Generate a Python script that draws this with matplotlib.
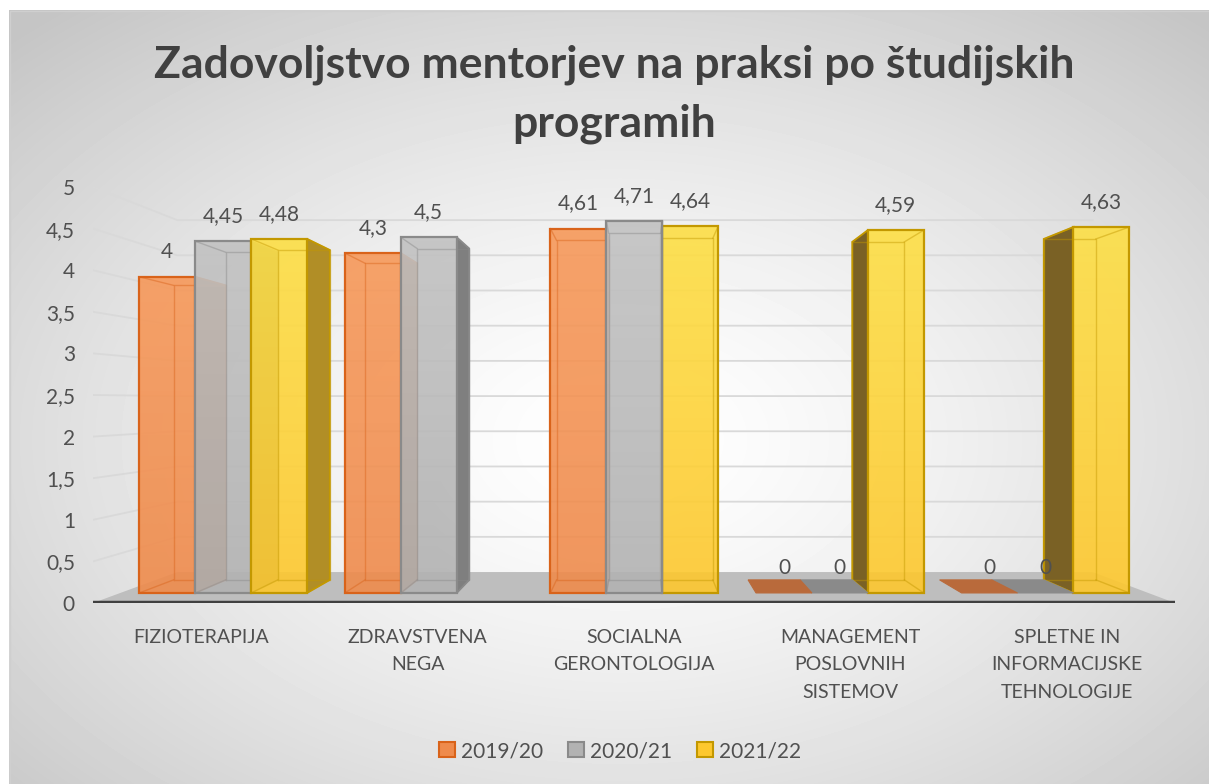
import numpy as np
import matplotlib
matplotlib.use("Agg")
import matplotlib.pyplot as plt
from matplotlib.patches import Polygon, Rectangle
from matplotlib.colors import LinearSegmentedColormap

plt.rcParams["font.family"] = ["Lato", "DejaVu Sans"]

# --- data ---
categories = [
    "FIZIOTERAPIJA",
    "ZDRAVSTVENA\nNEGA",
    "SOCIALNA\nGERONTOLOGIJA",
    "MANAGEMENT\nPOSLOVNIH\nSISTEMOV",
    "SPLETNE IN\nINFORMACIJSKE\nTEHNOLOGIJE",
]
series_names = ["2019/20", "2020/21", "2021/22"]
vals_2019 = [4, 4.3, 4.61, 0, 0]
vals_2020 = [4.45, 4.5, 4.71, 0, 0]
vals_2021 = [4.48, np.nan, 4.64, 4.59, 4.63]
y_ticks = [0, 0.5, 1, 1.5, 2, 2.5, 3, 3.5, 4, 4.5, 5]

title = "Zadovoljstvo mentorjev na praksi po študijskih\nprogramih"

# --- styling ---
FRONT = ["#EF8B4C", "#B2B2B2", "#FDC82E"]
FRONT_TOP = ["#F7995A", "#C2C2C2", "#FDDF45"]
EDGE = ["#D9631A", "#8A8A8A", "#C39800"]
RSIDE = ["#B5612A", "#7F7F7F", "#B18E26"]
LSIDE = ["#8A4A20", "#5E5E5E", "#7A6125"]
FLAT = ["#B96A3B", "#8A8A8A", "#C9A020"]
TXT = "#505050"

# simple one-point perspective, in data units of the front (floor-edge) plane
VX, VY = 2.528, 2.416
S_FRONT, S_BACK, S_WALL = 0.95, 0.885, 0.846
BAR_W = 0.272


def proj(x, y, s):
    return VX + s * (x - VX), VY + s * (y - VY)


def fmt(v):
    return f"{v:g}".replace(".", ",")


W, H = 1209, 784
fig = plt.figure(figsize=(W / 100, H / 100), dpi=100)

# background: radial grey gradient inside the chart area
bg = fig.add_axes([0, 0, 1, 1], zorder=0)
bg.set_xlim(0, W)
bg.set_ylim(H, 0)
bg.axis("off")
gx, gy = np.meshgrid(np.arange(9, W) + 0.5, np.arange(10, H) + 0.5)
r = np.hypot((gx - 620) / 600, (gy - 440) / 390)
shade = 1 - 0.23 * np.clip(r / 1.45, 0, 1) ** 1.4
bg.imshow(shade, cmap="gray", vmin=0, vmax=1, extent=(9, W, H, 10),
          aspect="auto", interpolation="bilinear")
bg.add_patch(Rectangle((9.5, 10.5), W, H, fill=False, edgecolor="#CFCFCF", lw=1))

ax = fig.add_axes([93 / W, 1 - 603 / H, (1175 - 93) / W, (603 - 187) / H], zorder=1)
ax.set_xlim(0, 5)
ax.set_ylim(0, 5)
ax.set_aspect("auto")
ax.patch.set_alpha(0)
for sp in ax.spines.values():
    sp.set_visible(False)

n_cat = len(categories)

# floor
floor = [proj(0, 0, 1), proj(n_cat, 0, 1), proj(n_cat, 0, S_WALL), proj(0, 0, S_WALL)]
ax.add_patch(Polygon(floor, closed=True, facecolor="#BEBEBE", edgecolor="none", zorder=1))
ax.plot([0, n_cat], [0, 0], color="#404040", lw=3.2, solid_capstyle="round", zorder=2)

# side-wall + back-wall gridlines
for v in y_ticks[1:]:
    a, b, c = proj(0, v, 1), proj(0, v, S_WALL), proj(n_cat, v, S_WALL)
    ax.plot([a[0], b[0], c[0]], [a[1], b[1], c[1]], color="#D9D9D9", lw=1.3, zorder=0.5)

cmaps = [LinearSegmentedColormap.from_list(f"s{k}", [FRONT[k], FRONT_TOP[k]])
         for k in range(len(series_names))]
ramp = np.linspace(0, 1, 64)[:, None]

# bars, painted far-from-vanishing-point first
bars = []
for k, vals in enumerate([vals_2019, vals_2020, vals_2021]):
    for i, v in enumerate(vals):
        if np.isnan(v):
            continue
        cx = i + 0.5 + (k - 1) * BAR_W
        bars.append((abs(cx - VX), cx, v, k))
bars.sort(key=lambda b: -b[0])

for j, (_, cx, v, k) in enumerate(bars):
    z = 3 + j * 0.1
    xl, xr = cx - BAR_W / 2, cx + BAR_W / 2
    x0, y0 = proj(xl, 0, S_FRONT)
    x1, y1 = proj(xr, v, S_FRONT)
    if v == 0:
        top = [proj(xl, 0, S_FRONT), proj(xr, 0, S_FRONT), proj(xr, 0, S_BACK), proj(xl, 0, S_BACK)]
        ax.add_patch(Polygon(top, closed=True, facecolor=FLAT[k], edgecolor=FLAT[k],
                             lw=0.8, zorder=z))
    else:
        if cx > VX:
            sx, scol = xl, LSIDE[k]
        else:
            sx, scol = xr, RSIDE[k]
        side = [proj(sx, 0, S_FRONT), proj(sx, v, S_FRONT), proj(sx, v, S_BACK), proj(sx, 0, S_BACK)]
        ax.add_patch(Polygon(side, closed=True, facecolor=scol, edgecolor=EDGE[k],
                             lw=1.3, zorder=z))
        # front face: translucent vertical gradient, outlined by the bar itself
        ax.imshow(ramp, cmap=cmaps[k], origin="lower", extent=(x0, x1, y0, y1),
                  aspect="auto", alpha=0.9, zorder=z + 0.005, interpolation="bilinear")
        ax.bar(x0, y1 - y0, width=x1 - x0, bottom=y0, align="edge",
               facecolor="none", edgecolor=EDGE[k], lw=1.6, zorder=z + 0.01)
        # back edges seen through the translucent bar
        back = [proj(xl, 0, S_BACK), proj(xr, 0, S_BACK), proj(xr, v, S_BACK), proj(xl, v, S_BACK)]
        front = [(x0, y0), (x1, y0), (x1, y1), (x0, y1)]
        bx = [p[0] for p in back] + [back[0][0]]
        by = [p[1] for p in back] + [back[0][1]]
        ax.plot(bx, by, color=EDGE[k], lw=1, alpha=0.45, zorder=z + 0.02)
        for f, b in zip(front, back):
            ax.plot([f[0], b[0]], [f[1], b[1]], color=EDGE[k], lw=1, alpha=0.45, zorder=z + 0.02)
    ax.annotate(fmt(v), xy=((x0 + x1) / 2, y1), xytext=(0, 18), textcoords="offset points",
                ha="center", va="center", fontsize=15, color=TXT, zorder=20,
                annotation_clip=False)

ax.set_xlim(0, 5)
ax.set_ylim(0, 5)

# axes labels
ax.set_yticks(y_ticks)
ax.set_yticklabels([fmt(t) for t in y_ticks])
ax.set_xticks([i + 0.5 for i in range(n_cat)])
ax.set_xticklabels(categories)
ax.tick_params(axis="y", length=0, pad=13, labelsize=15, labelcolor=TXT)
ax.tick_params(axis="x", length=0, pad=19, labelsize=14, labelcolor=TXT)
for t in ax.get_xticklabels():
    t.set_linespacing(1.72)

fig.text(614 / W, 1 - 94 / H, title, ha="center", va="center", fontsize=32,
         fontweight="bold", color="#404040", linespacing=1.55)

handles = [Rectangle((0, 0), 1, 1, facecolor=FRONT[k], edgecolor=EDGE[k], lw=1.5)
           for k in range(len(series_names))]
fig.legend(handles, series_names, loc="center", bbox_to_anchor=(620 / W, 1 - 751 / H),
           ncol=3, frameon=False, handlelength=0.75, handleheight=0.75, handletextpad=0.3,
           columnspacing=1.2, fontsize=15, labelcolor=TXT)

fig.savefig("out.png", dpi=100)
